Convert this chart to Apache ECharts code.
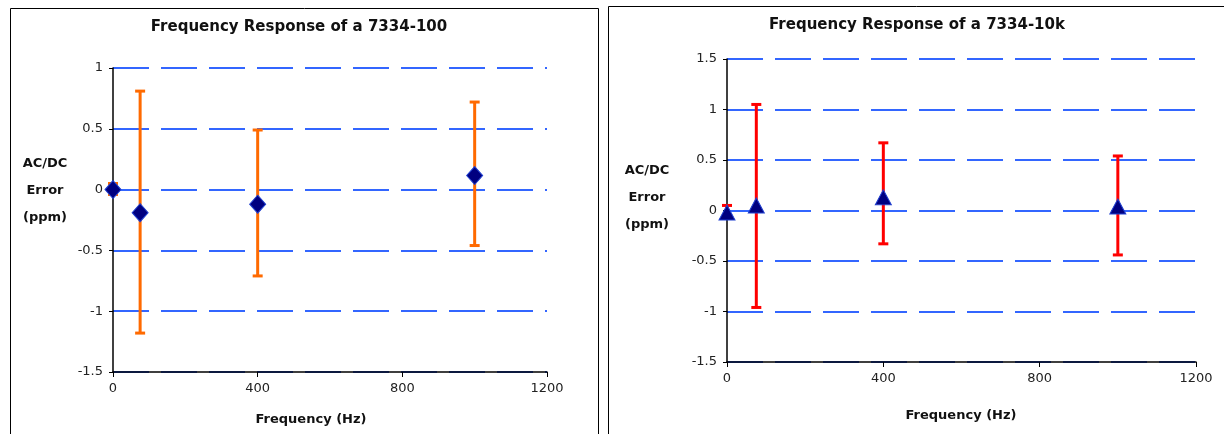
<!DOCTYPE html>
<html>
<head>
<meta charset="utf-8">
<script src="https://cdn.jsdelivr.net/npm/echarts@6/dist/echarts.min.js"></script>
<style>
  html, body { margin: 0; padding: 0; background: #fff; }
  #chart { width: 1224px; height: 434px; }
</style>
</head>
<body>
<div id="chart"></div>
<script>
// 7334-100 (left)
let freqA = [0, 75, 400, 1000];
let errA = [0, -0.19, -0.12, 0.115];
let lowA = [-0.04, -1.18, -0.71, -0.46];
let highA = [0.05, 0.81, 0.49, 0.72];
// 7334-10k (right)
let freqB = [0, 75, 400, 1000];
let errB = [-0.02, 0.05, 0.13, 0.04];
let lowB = [-0.05, -0.96, -0.33, -0.44];
let highB = [0.05, 1.05, 0.67, 0.54];

let titleA = 'Frequency Response of a 7334-100';
let titleB = 'Frequency Response of a 7334-10k';
let yName = 'AC/DC\nError\n(ppm)';
let xName = 'Frequency (Hz)';

let font = '"DejaVu Sans", Verdana, sans-serif';

let barData = function (freq, low, high) {
  let res = [];
  for (let i = 0; i < freq.length; i++) {
    res.push([freq[i], low[i], high[i]]);
  }
  return res;
};

// error bar with caps
let errorRender = function (color) {
  return function (params, api) {
    let x = api.value(0);
    let p1 = api.coord([x, api.value(1)]);
    let p2 = api.coord([x, api.value(2)]);
    let cap = 5;
    let style = { stroke: color, lineWidth: 3 };
    return {
      type: 'group',
      children: [
        { type: 'line', shape: { x1: p1[0], y1: p1[1], x2: p2[0], y2: p2[1] }, style: style },
        { type: 'line', shape: { x1: p1[0] - cap, y1: p1[1], x2: p1[0] + cap, y2: p1[1] }, style: style },
        { type: 'line', shape: { x1: p2[0] - cap, y1: p2[1], x2: p2[0] + cap, y2: p2[1] }, style: style }
      ]
    };
  };
};

let xAxisOf = function (idx) {
  return {
    type: 'value', gridIndex: idx, min: 0, max: 1200, interval: 400,
    axisLine: { onZero: false, lineStyle: { color: '#000', width: 1.5 } },
    axisTick: { show: true, length: 5, lineStyle: { color: '#000' } },
    axisLabel: {
      color: '#222', fontSize: 13, fontFamily: font, margin: 10,
      formatter: function (v) { return String(v); }
    },
    splitLine: { show: false }
  };
};

let yAxisOf = function (idx, min, max) {
  return {
    type: 'value', gridIndex: idx, min: min, max: max, interval: 0.5,
    axisLine: { show: true, lineStyle: { color: '#000', width: 1.5 } },
    axisTick: { show: true, length: 4, lineStyle: { color: '#000' } },
    axisLabel: { color: '#222', fontSize: 13, fontFamily: font, margin: 10 },
    splitLine: { show: true, lineStyle: { color: '#3366ff', width: 2, type: [36, 12] } }
  };
};

let chart = echarts.init(document.getElementById('chart'));
chart.setOption({
  backgroundColor: '#fff',
  animation: false,
  grid: [
    { left: 113, top: 68, width: 434, height: 304 },
    { left: 727, top: 59, width: 469, height: 303 }
  ],
  xAxis: [xAxisOf(0), xAxisOf(1)],
  yAxis: [yAxisOf(0, -1.5, 1), yAxisOf(1, -1.5, 1.5)],
  graphic: [
    { type: 'rect', shape: { x: 10.5, y: 8.5, width: 588, height: 440 }, style: { fill: 'none', stroke: '#000', lineWidth: 1 }, z: 0 },
    { type: 'rect', shape: { x: 608.5, y: 6.5, width: 640, height: 440 }, style: { fill: 'none', stroke: '#000', lineWidth: 1 }, z: 0 },
    { type: 'text', x: 299, y: 27, style: { text: titleA, font: 'bold 15px ' + font, fill: '#111', textAlign: 'center', textVerticalAlign: 'middle' } },
    { type: 'text', x: 917, y: 25, style: { text: titleB, font: 'bold 15px ' + font, fill: '#111', textAlign: 'center', textVerticalAlign: 'middle' } },
    { type: 'text', x: 45, y: 191, style: { text: yName, font: 'bold 13px ' + font, fill: '#111', textAlign: 'center', textVerticalAlign: 'middle', lineHeight: 27 } },
    { type: 'text', x: 647, y: 198, style: { text: yName, font: 'bold 13px ' + font, fill: '#111', textAlign: 'center', textVerticalAlign: 'middle', lineHeight: 27 } },
    { type: 'text', x: 311, y: 420, style: { text: xName, font: 'bold 13px ' + font, fill: '#111', textAlign: 'center', textVerticalAlign: 'middle' } },
    { type: 'text', x: 961, y: 416, style: { text: xName, font: 'bold 13px ' + font, fill: '#111', textAlign: 'center', textVerticalAlign: 'middle' } }
  ],
  series: [
    {
      type: 'custom', xAxisIndex: 0, yAxisIndex: 0, clip: false, z: 2,
      renderItem: errorRender('#ff6a00'),
      data: barData(freqA, lowA, highA)
    },
    {
      type: 'scatter', xAxisIndex: 0, yAxisIndex: 0, clip: false, z: 3,
      symbol: 'diamond', symbolSize: [16, 18],
      itemStyle: { color: '#000080', borderColor: '#1f3fd0', borderWidth: 1, opacity: 1 },
      data: freqA.map(function (f, i) { return [f, errA[i]]; })
    },
    {
      type: 'custom', xAxisIndex: 1, yAxisIndex: 1, clip: false, z: 2,
      renderItem: errorRender('#ff0000'),
      data: barData(freqB, lowB, highB)
    },
    {
      type: 'scatter', xAxisIndex: 1, yAxisIndex: 1, clip: false, z: 3,
      symbol: 'triangle', symbolSize: [16, 15],
      itemStyle: { color: '#000080', borderColor: '#1f3fd0', borderWidth: 1, opacity: 1 },
      data: freqB.map(function (f, i) { return [f, errB[i]]; })
    }
  ]
});
</script>
</body>
</html>
